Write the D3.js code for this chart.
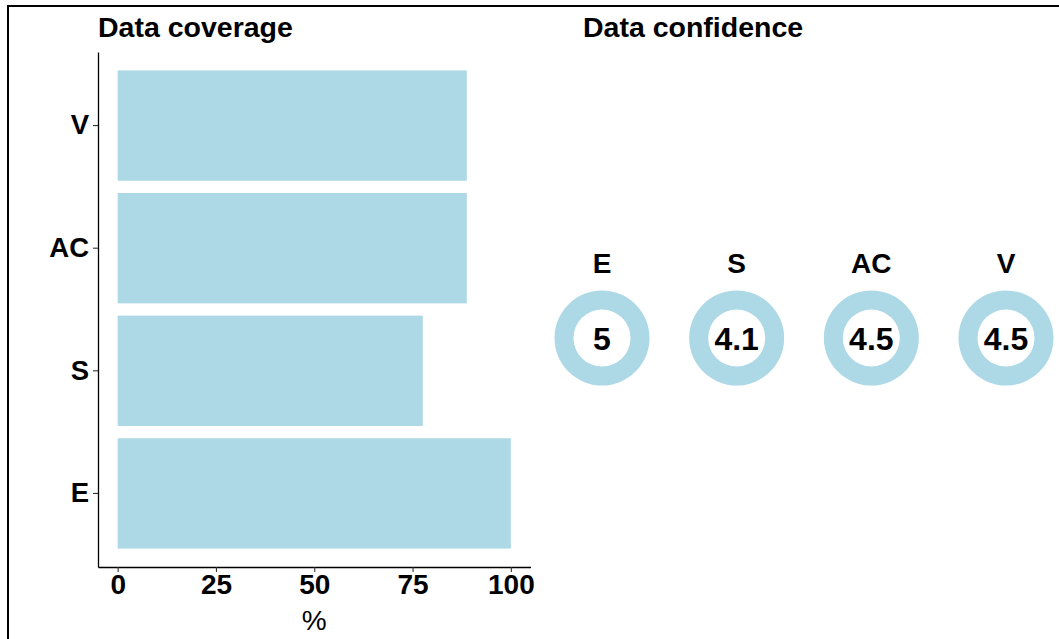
<!DOCTYPE html>
<html>
<head>
<meta charset="utf-8">
<script src="https://cdn.jsdelivr.net/npm/d3@7"></script>
<style>
    body { margin: 0; background: #fff; }
    svg { display: block; font-family: "Liberation Sans", Arial, sans-serif; }
</style>
</head>
<body>
<div id="chart"></div>
<script>
    "use strict";

    // data
    var categories = ["E", "S", "AC", "V"];
    var coverage = [100, 77.6, 88.8, 88.8];
    var confidence = [5, 4.1, 4.5, 4.5];
    var confidenceLabels = ["5", "4.1", "4.5", "4.5"];
    var xTicks = [0, 25, 50, 75, 100];

    var fill = "#ADD8E6";
    var width = 1059;
    var height = 639;

    var svg = d3.select("#chart")
        .append("svg")
        .attr("width", width)
        .attr("height", height);

    // outer frame (cut by the right and bottom edge)
    svg.append("rect")
        .attr("x", 8)
        .attr("y", 6)
        .attr("width", 1200)
        .attr("height", 800)
        .attr("fill", "none")
        .attr("stroke", "#000")
        .attr("stroke-width", 2);

    // ---- Data coverage ----
    var panel = { left: 98, right: 530.5, top: 52, bottom: 567 };

    var x = d3.scaleLinear()
        .domain([-5, 105])
        .range([panel.left, panel.right]);

    var y = d3.scaleBand()
        .domain(categories)
        .range([panel.bottom, panel.top])
        .paddingInner(0.1)
        .paddingOuter(0.15);

    svg.append("text")
        .attr("x", 98)
        .attr("y", 37)
        .attr("font-size", 28.5)
        .attr("font-weight", "bold")
        .text("Data coverage");

    svg.append("g")
        .selectAll("rect")
        .data(categories)
        .enter()
        .append("rect")
        .attr("x", x(0))
        .attr("y", function (d) {
            return y(d);
        })
        .attr("width", function (d, i) {
            return x(coverage[i]) - x(0);
        })
        .attr("height", y.bandwidth())
        .attr("fill", fill);

    var yAxis = svg.append("g")
        .attr("transform", "translate(" + panel.left + ",0)")
        .call(d3.axisLeft(y).tickSize(5).tickSizeOuter(0).tickPadding(4));

    var xAxis = svg.append("g")
        .attr("transform", "translate(0," + panel.bottom + ")")
        .call(d3.axisBottom(x).tickValues(xTicks).tickSize(5).tickSizeOuter(0).tickPadding(3));

    [yAxis, xAxis].forEach(function (g) {
        g.select(".domain").attr("stroke", "#000").attr("stroke-width", 1.3);
        g.selectAll(".tick line").attr("stroke", "#333").attr("stroke-width", 1.1);
        g.selectAll(".tick text")
            .attr("fill", "#000")
            .attr("font-size", 28)
            .attr("font-weight", "bold")
            .attr("font-family", "\"Liberation Sans\", Arial, sans-serif");
    });
    yAxis.selectAll(".tick text").attr("font-size", 27.5);
    xAxis.selectAll(".tick text").attr("dy", "0.68em");

    svg.append("text")
        .attr("x", x(50))
        .attr("y", 630)
        .attr("text-anchor", "middle")
        .attr("font-size", 28)
        .text("%");

    // ---- Data confidence ----
    svg.append("text")
        .attr("x", 583)
        .attr("y", 37)
        .attr("font-size", 28.5)
        .attr("font-weight", "bold")
        .text("Data confidence");

    var cx = d3.scalePoint()
        .domain(categories)
        .range([602, 1006]);

    var ring = d3.arc()
        .innerRadius(28.5)
        .outerRadius(47.5)
        .startAngle(0)
        .endAngle(2 * Math.PI);

    var donuts = svg.append("g")
        .selectAll("g")
        .data(categories)
        .enter()
        .append("g")
        .attr("transform", function (d) {
            return "translate(" + cx(d) + ",338)";
        });

    donuts.append("path")
        .attr("d", ring())
        .attr("fill", fill);

    donuts.append("text")
        .attr("y", -75)
        .attr("dy", "0.36em")
        .attr("text-anchor", "middle")
        .attr("font-size", 28)
        .attr("font-weight", "bold")
        .text(function (d) {
            return d;
        });

    donuts.append("text")
        .attr("dy", "0.36em")
        .attr("text-anchor", "middle")
        .attr("font-size", 32)
        .attr("font-weight", "bold")
        .text(function (d, i) {
            return confidenceLabels[i];
        });
</script>
</body>
</html>
